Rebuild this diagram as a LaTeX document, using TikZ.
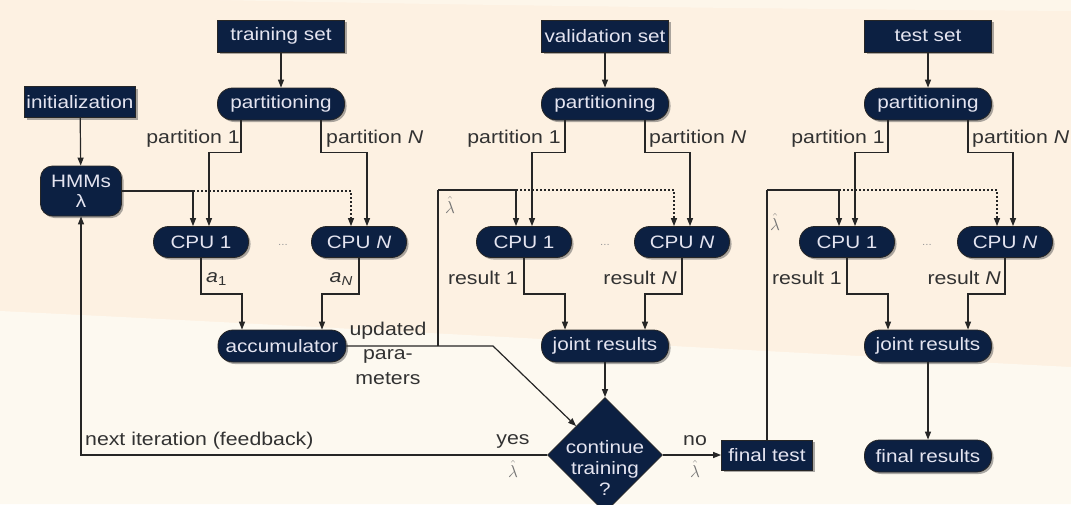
\documentclass[tikz,border=0pt]{standalone}
\usepackage{fontspec}
\setmainfont{Liberation Sans}[FakeStretch=1.15]
\usetikzlibrary{arrows.meta,shapes.geometric,shadows}
\definecolor{navy}{RGB}{12,32,66}
\definecolor{navytext}{RGB}{228,228,240}
\definecolor{bgtop}{RGB}{253,241,226}
\definecolor{bgbot}{RGB}{253,249,240}
\definecolor{labelc}{RGB}{50,50,50}
\tikzset{
  blk/.style={fill=navy, draw=black!85, line width=0.8pt, text=navytext,
    font=\fontsize{18}{21}\selectfont, inner sep=0pt, align=center,
    drop shadow={shadow xshift=2pt, shadow yshift=-2pt, fill=black!60, opacity=0.55}},
  sqbox/.style={blk, minimum width=127, minimum height=32},
  pill/.style={blk, rounded corners=15pt, minimum width=127, minimum height=32},
  cpu/.style={blk, rounded corners=15pt, minimum width=95, minimum height=31},
  lbl/.style={text=labelc, font=\fontsize{18.5}{23}\selectfont, inner sep=1pt},
  lam/.style={text=black!55, font=\fontsize{17}{19}\selectfont, inner sep=0pt},
  dots/.style={text=black!40, font=\fontsize{10}{12}\selectfont, inner sep=0pt},
  arr/.style={-{Triangle[length=8pt,width=6pt]}, line width=1.2pt, draw=black!85},
  ln/.style={line width=1.2pt, draw=black!85},
  dotl/.style={dash pattern=on 2pt off 2pt}
}
\begin{document}
\begin{tikzpicture}[x=1pt,y=-1pt]
\useasboundingbox (0,0) rectangle (1071,504);
\clip (0,0) rectangle (1071,504);
\fill[bgtop] (0,0) rectangle (1071,504);
\fill[bgbot] (0,311) .. controls (350,328) and (700,348) .. (1071,367) -- (1071,504) -- (0,504) -- cycle;
\fill[bgbot!60!bgtop] (220,0) .. controls (500,6) and (800,9) .. (1071,11) -- (1071,0) -- cycle;

% top inputs
\node[sqbox] (train) at (281,36) {training set};
\node[sqbox] (valid) at (605,36) {validation set};
\node[sqbox] (tests) at (928,36) {test set};
\node[sqbox, minimum width=111, minimum height=31] (init) at (80,102) {initialization};

% partitioning
\node[pill] (ptrain) at (281,104) {partitioning};
\node[pill] (pvalid) at (605,104) {partitioning};
\node[pill] (ptest) at (928,104) {partitioning};

% HMMs
\node[blk, rounded corners=12pt, minimum width=81, minimum height=50,
      font=\fontsize{18}{20}\selectfont] (hmm) at (81,191) {HMMs\\λ};

% CPUs
\node[cpu] (cpu1t) at (201,242) {CPU 1};
\node[cpu] (cpuNt) at (359,242) {CPU \textit{N}};
\node[cpu] (cpu1v) at (524,242) {CPU 1};
\node[cpu] (cpuNv) at (682,242) {CPU \textit{N}};
\node[cpu] (cpu1x) at (847,242) {CPU 1};
\node[cpu] (cpuNx) at (1005,242) {CPU \textit{N}};
\node[dots] (d1) at (283,245) {...};
\node[dots] (d2) at (605,245) {...};
\node[dots] (d3) at (927,245) {...};

% accumulators / joint
\node[pill, minimum width=128] (acc) at (282,346) {accumulator};
\node[pill] (jointv) at (605,346) {joint results};
\node[pill] (jointx) at (928,346) {joint results};
\node[pill] (fres) at (928,456) {final results};
\node[sqbox, minimum width=91, minimum height=30] (ftest) at (767,455) {final test};

% decision
\node[diamond, aspect=1, minimum width=115, minimum height=115, inner sep=0pt,
      fill=navy, draw=black!85, line width=0.8pt,
      label={[text=navytext, align=center, font=\fontsize{18}{21}\selectfont, yshift=-13pt]center:continue\\training\\?}]
      (diam) at (605,455) {};

% inputs to partitioning
\draw[arr] (train) -- (ptrain);
\draw[arr] (valid) -- (pvalid);
\draw[arr] (tests) -- (ptest);
\draw[arr] (init) -- (hmm);

% partitions
\foreach \p/\a/\b in {ptrain/cpu1t/cpuNt, pvalid/cpu1v/cpuNv, ptest/cpu1x/cpuNx}{
  \draw[arr] ([xshift=-40pt]\p.south) -- ++(0,32) -| ([xshift=8pt]\a.north);
  \draw[arr] ([xshift=40pt]\p.south) -- ++(0,32) -| ([xshift=8pt]\b.north);
}
\node[lbl, anchor=east] (pl1) at (241,139) {partition 1};
\node[lbl, anchor=west] (pl2) at (325,139) {partition \textit{N}};
\node[lbl, anchor=east] (pl3) at (562,139) {partition 1};
\node[lbl, anchor=west] (pl4) at (648,139) {partition \textit{N}};
\node[lbl, anchor=east] (pl5) at (886,139) {partition 1};
\node[lbl, anchor=west] (pl6) at (971,139) {partition \textit{N}};

% model to CPUs (training)
\draw[arr] (hmm.east) -| ([xshift=-8pt]cpu1t.north);
\draw[arr, dotl] ([xshift=-8pt]cpu1t.north |- hmm.east) -| ([xshift=-8pt]cpuNt.north);

% CPU results to accumulators
\foreach \a/\b/\j in {cpu1t/cpuNt/acc, cpu1v/cpuNv/jointv, cpu1x/cpuNx/jointx}{
  \draw[arr] (\a.south) -- ++(0,36) -| ([xshift=-40pt]\j.north);
  \draw[arr] (\b.south) -- ++(0,36) -| ([xshift=40pt]\j.north);
}
\node[lbl, anchor=west] (la1) at (205,279) {\textit{a}\textsubscript{1}};
\node[lbl, anchor=east] (la2) at (354,279) {\textit{a}\textsubscript{\textit{N}}};
\node[lbl, anchor=east] (lr1) at (519,278) {result 1};
\node[lbl, anchor=east] (lr2) at (678,278) {result \textit{N}};
\node[lbl, anchor=east] (lr3) at (843,278) {result 1};
\node[lbl, anchor=east] (lr4) at (1002,278) {result \textit{N}};

% accumulator output
\coordinate (br) at (438,346);
\coordinate (bend) at (493,346);
\coordinate (lamv) at (438,190);
\draw[arr] (acc.east) -- (bend) -- (diam.north west);
\draw[ln] (br) -- (lamv);
\draw[arr] (lamv) -| ([xshift=-8pt]cpu1v.north);
\draw[arr, dotl] ([xshift=-8pt]cpu1v.north |- lamv) -| ([xshift=-8pt]cpuNv.north);
\node[lam] (lh1) at (450,205) {$\hat\lambda$};
\node[lbl, align=center, font=\fontsize{18.5}{24.5}\selectfont] (upd) at (388,353) {updated\\para-\\meters};

% joint results
\draw[arr] (jointv) -- (diam);
\draw[arr] (jointx) -- (fres);

% decision outputs
\draw[arr] (diam.west) -| (hmm.south);
\draw[arr] (diam.east) -- (ftest.west);
\node[lbl, anchor=west] (nfb) at (84,441) {next iteration (feedback)};
\node[lbl] (yes) at (513,441) {yes};
\node[lam] (lh2) at (513,469) {$\hat\lambda$};
\node[lbl] (no) at (695,441) {no};
\node[lam] (lh3) at (695,469) {$\hat\lambda$};

% final test to test CPUs
\coordinate (lamt) at (767,190);
\draw[ln] (ftest.north) -- (lamt);
\draw[arr] (lamt) -| ([xshift=-8pt]cpu1x.north);
\draw[arr, dotl] ([xshift=-8pt]cpu1x.north |- lamt) -| ([xshift=-8pt]cpuNx.north);
\node[lam] (lh4) at (775,222) {$\hat\lambda$};
\end{tikzpicture}
\end{document}
